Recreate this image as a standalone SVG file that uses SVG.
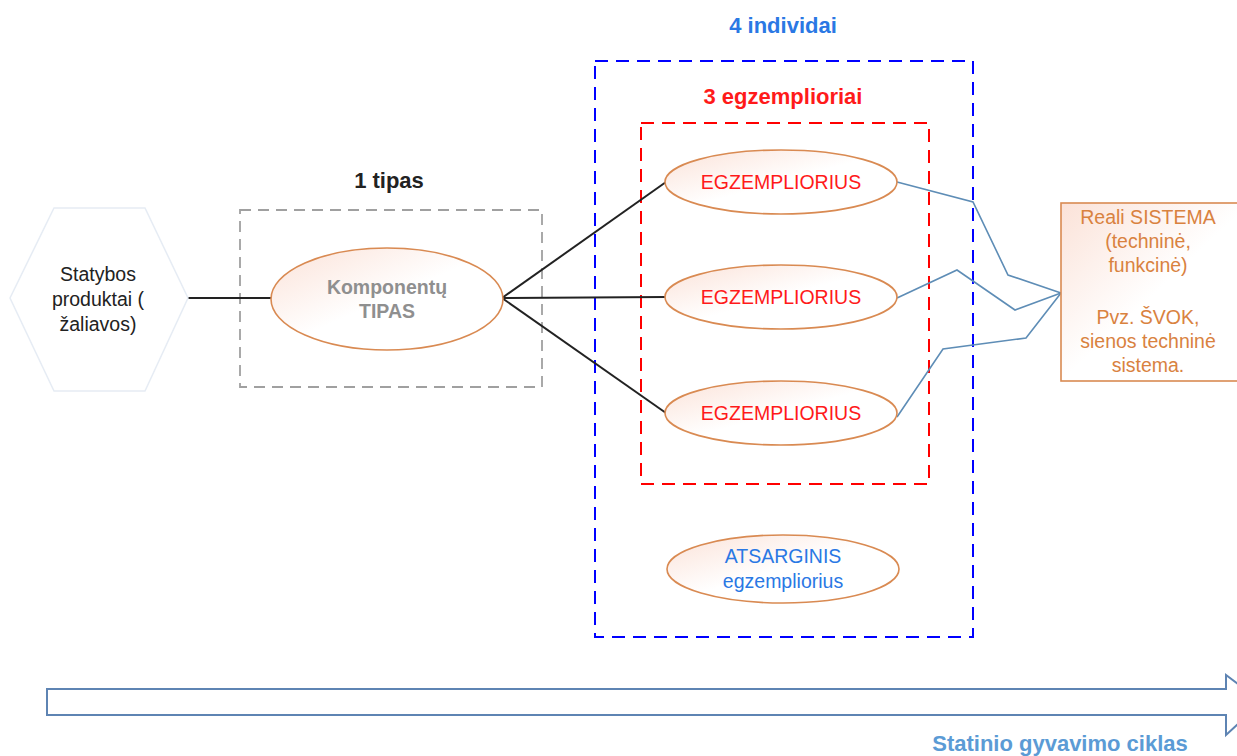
<svg xmlns="http://www.w3.org/2000/svg" width="1237" height="756" viewBox="0 0 1237 756">
<defs>
<linearGradient id="pink" x1="0" y1="0" x2="1" y2="1">
<stop offset="0" stop-color="#fbe2d8"/>
<stop offset="0.5" stop-color="#ffffff"/>
<stop offset="1" stop-color="#ffffff"/>
</linearGradient>
<style>
text{font-family:"Liberation Sans",Arial,sans-serif;text-anchor:middle}
.ell{fill:url(#pink);stroke:#d98a52;stroke-width:1.6}
.blk{stroke:#222;stroke-width:2;fill:none}
.blu{stroke:#5e8db6;stroke-width:1.6;fill:none}
.t19{font-size:19.5px}
.hdr{font-size:22px;font-weight:bold}
</style>
</defs>
<rect width="1237" height="756" fill="#fff"/>

<g id="box-individai">
<rect x="595" y="61" width="378" height="576" fill="none" stroke="#0000ff" stroke-width="2" stroke-dasharray="13,8"/>
<text x="783" y="33" class="hdr" fill="#2a78e4">4 individai</text>
</g>
<g id="box-egzemplioriai">
<rect x="641" y="123" width="288" height="361" fill="none" stroke="#ff0000" stroke-width="2" stroke-dasharray="13,8"/>
<text x="783" y="104" class="hdr" fill="#ff1a1a">3 egzemplioriai</text>
</g>
<g id="box-tipas">
<rect x="240" y="210" width="302" height="177" fill="none" stroke="#a0a0a0" stroke-width="1.8" stroke-dasharray="11,7"/>
<text x="389" y="188" class="hdr" fill="#222">1 tipas</text>
</g>

<g id="connectors">
<line x1="188" y1="298" x2="272" y2="298" class="blk"/>
<line x1="502" y1="298" x2="666" y2="182" class="blk"/>
<line x1="502" y1="298" x2="666" y2="297" class="blk"/>
<line x1="502" y1="298" x2="666" y2="413" class="blk"/>
<polyline points="897,182 973,202 1008,275 1061,293" class="blu"/>
<polyline points="897,298 957,270 1015,310 1061,293" class="blu"/>
<polyline points="897,417 943,349 1026,338 1061,293" class="blu"/>
</g>

<g id="node-statybos">
<polygon points="10,298 54,208 145,208 188,298 145,391 54,391" fill="#fff" stroke="#e6ecf4" stroke-width="1.5"/>
<text class="t19" fill="#222"><tspan x="98" y="281">Statybos</tspan><tspan x="98" y="306">produktai (</tspan><tspan x="98" y="331">žaliavos)</tspan></text>
</g>

<g id="node-tipas">
<ellipse cx="387" cy="299" rx="116" ry="51" class="ell"/>
<text class="t19" font-weight="bold" fill="#8f8f8f"><tspan x="387" y="294">Komponentų</tspan><tspan x="387" y="318">TIPAS</tspan></text>
</g>

<g id="node-egz1">
<ellipse cx="781" cy="182" rx="116" ry="32" class="ell"/>
<text x="781" y="189" class="t19" fill="#ff1a1a">EGZEMPLIORIUS</text>
</g>
<g id="node-egz2">
<ellipse cx="781" cy="297" rx="116" ry="32" class="ell"/>
<text x="781" y="304" class="t19" fill="#ff1a1a">EGZEMPLIORIUS</text>
</g>
<g id="node-egz3">
<ellipse cx="781" cy="413" rx="116" ry="32" class="ell"/>
<text x="781" y="420" class="t19" fill="#ff1a1a">EGZEMPLIORIUS</text>
</g>

<g id="node-atsarginis">
<ellipse cx="783" cy="569" rx="116" ry="34" class="ell"/>
<text class="t19" fill="#2a78e4"><tspan x="783" y="563">ATSARGINIS</tspan><tspan x="783" y="588">egzempliorius</tspan></text>
</g>

<g id="node-sistema">
<rect x="1061" y="203" width="190" height="178" fill="url(#pink)" stroke="#d98a52" stroke-width="1.6"/>
<text class="t19" fill="#d9823f"><tspan x="1148" y="224">Reali SISTEMA</tspan><tspan x="1148" y="248">(techninė,</tspan><tspan x="1148" y="272">funkcinė)</tspan><tspan x="1148" y="324">Pvz. ŠVOK,</tspan><tspan x="1148" y="348">sienos techninė</tspan><tspan x="1148" y="372">sistema.</tspan></text>
</g>

<g id="lifecycle">
<polygon points="47,689 1226,689 1226,675 1262,702 1226,735 1226,715 47,715" fill="#fff" stroke="#5e84b3" stroke-width="2"/>
<text x="1060" y="751" font-size="22px" font-weight="bold" fill="#5b9bd5">Statinio gyvavimo ciklas</text>
</g>
</svg>
